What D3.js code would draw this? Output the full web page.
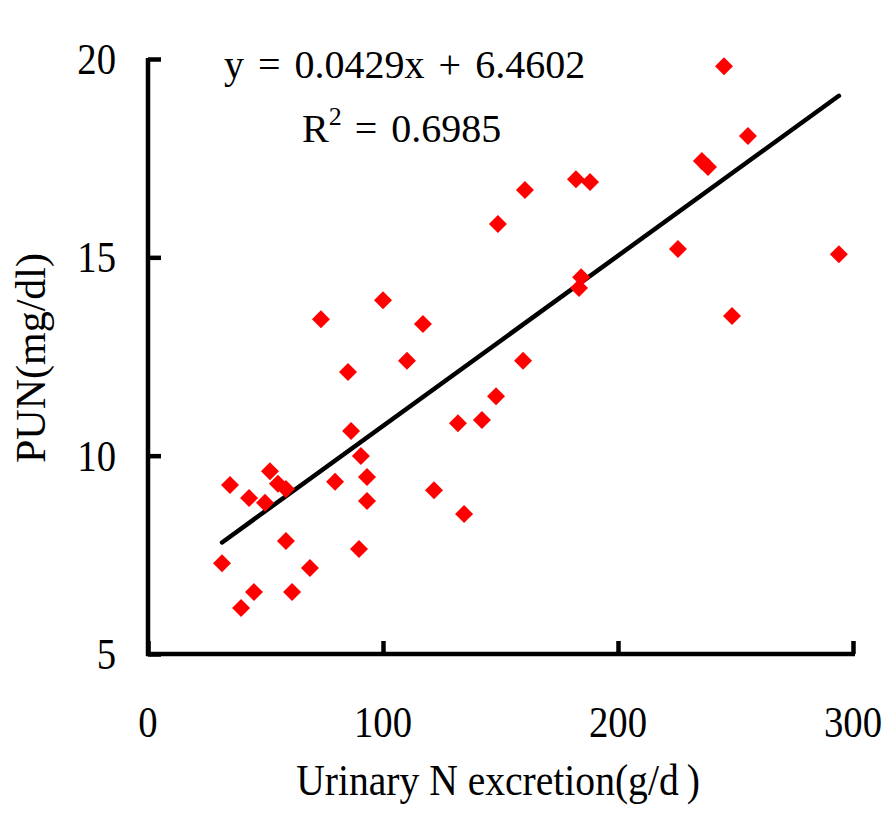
<!DOCTYPE html>
<html>
<head>
<meta charset="utf-8">
<script src="https://cdn.jsdelivr.net/npm/d3@7"></script>
<style>
  html, body { margin: 0; padding: 0; background: #fff; }
  svg { display: block; }
  text { font-family: "Times New Roman", "Liberation Serif", serif; fill: #000; }
</style>
</head>
<body>
<script>
// Urinary N excretion (g/d) and plasma urea N (mg/dl) per animal
const urinaryN = [31.5, 34.9, 39.6, 45.1, 43.0, 49.8, 51.9, 55.3, 58.7, 58.7, 61.3, 68.9,
  79.6, 89.8, 90.6, 93.2, 93.2, 73.6, 100.0, 85.1, 86.4, 117.0, 110.2, 131.9, 142.1,
  148.1, 159.6, 121.7, 134.5, 148.9, 160.4, 182.1, 188.1, 184.3, 183.4, 245.1, 255.3,
  235.7, 238.3, 225.5, 294.0, 248.5];
const pun = [7.29, 9.26, 6.16, 6.56, 8.93, 8.81, 9.61, 9.29, 9.16, 7.85, 6.56, 7.17,
  9.34, 7.65, 9.99, 9.46, 8.86, 13.44, 13.92, 12.11, 10.62, 13.32, 12.39, 10.82, 10.90,
  11.50, 12.39, 9.13, 8.53, 15.84, 16.70, 16.97, 16.90, 14.50, 14.23, 19.82, 18.06,
  17.43, 17.28, 15.21, 15.08, 13.52];

// Linear fit reported on the chart
const slope = 0.0429;
const intercept = 6.4602;
const rSquared = "0.6985";

const xTicks = [0, 100, 200, 300];
const yTicks = [5, 10, 15, 20];

const W = 890, H = 821;
const svg = d3.select("body").append("svg").attr("width", W).attr("height", H);

const x = d3.scaleLinear().domain([0, 300]).range([148, 853]);
const y = d3.scaleLinear().domain([5, 20]).range([654, 59]);

// Axes: thick black lines with inward ticks
const axisW = 4.5;
const xAxis = svg.append("g").attr("transform", `translate(0,${y(5)})`)
  .call(d3.axisBottom(x).tickValues(xTicks).tickSize(-13).tickFormat(""));
const yAxis = svg.append("g").attr("transform", `translate(${x(0)},0)`)
  .call(d3.axisLeft(y).tickValues(yTicks).tickSize(-13).tickFormat(""));
[xAxis, yAxis].forEach(g => {
  g.select(".domain").attr("stroke", "#000").attr("stroke-width", axisW);
  g.selectAll(".tick line").attr("stroke", "#000").attr("stroke-width", axisW);
});
xAxis.select(".domain").attr("d", `M${x(0) - 2},0H${x(300) + 2}`);
yAxis.select(".domain").attr("d", `M0,${y(20) - 1}V${y(5) + 2}`);

// Tick labels (slightly condensed serif digits)
const sx = 0.88;
svg.append("g").selectAll("text").data(xTicks).join("text")
  .attr("transform", d => `translate(${x(d)},737) scale(${sx},1)`)
  .attr("text-anchor", "middle").attr("font-size", 44)
  .text(d => d);
svg.append("g").selectAll("text").data(yTicks).join("text")
  .attr("transform", d => `translate(116,${y(d) + 15}) scale(${sx},1)`)
  .attr("text-anchor", "end").attr("font-size", 44)
  .text(d => d);

// Axis titles
svg.append("text")
  .attr("transform", "translate(498,795) scale(0.9,1)")
  .attr("text-anchor", "middle")
  .attr("font-size", 44)
  .text("Urinary N excretion(g/d\u2009)");

svg.append("text")
  .attr("transform", `translate(45,358) rotate(-90)`)
  .attr("text-anchor", "middle").attr("font-size", 42)
  .text("PUN(mg/dl)");

// Trend line over the observed range
const [x0, x1] = d3.extent(urinaryN);
const line = d3.line().x(d => x(d)).y(d => y(slope * d + intercept));
svg.append("path")
  .datum([x0, x1])
  .attr("d", line)
  .attr("fill", "none").attr("stroke", "#000").attr("stroke-width", 4.5)
  .attr("stroke-linecap", "round");

// Data points as red diamonds
const pts = urinaryN.map((v, i) => [v, pun[i]]);
svg.append("g").selectAll("path").data(pts).join("path")
  .attr("transform", d => `translate(${x(d[0])},${y(d[1])}) rotate(45)`)
  .attr("d", d3.symbol(d3.symbolSquare, 162))
  .attr("fill", "#ff0000");

// Regression annotation
const eq = svg.append("text").attr("x", 224).attr("y", 78).attr("font-size", 40);
const eqParts = ["y", "=", `${slope}x`, "+", `${intercept}`];
eqParts.forEach((p, i) => eq.append("tspan").attr("dx", i === 0 ? 0 : 14).text(p));

const r2 = svg.append("text").attr("x", 302).attr("y", 142).attr("font-size", 40);
r2.append("tspan").text("R");
r2.append("tspan").attr("dy", -17).attr("font-size", 26).text("2");
r2.append("tspan").attr("dy", 17).attr("dx", 13).text("=");
r2.append("tspan").attr("dx", 14).text(rSquared);
</script>
</body>
</html>
